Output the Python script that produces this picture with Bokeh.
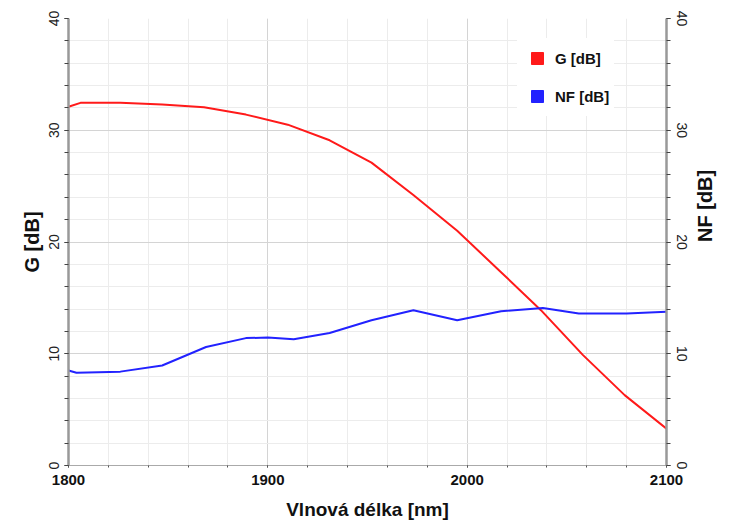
import math
from bokeh.plotting import figure
from bokeh.models import (Range1d, LinearAxis, FixedTicker, Legend, LegendItem,
                          ColumnDataSource)
from bokeh.embed import file_html
from bokeh.resources import INLINE

# Gain and noise figure of the amplifier versus wavelength
wl_g = [1800, 1806, 1826, 1847, 1868, 1889, 1910, 1931, 1952, 1973, 1995, 2017, 2037, 2058, 2079, 2100]
gain_db = [32.1, 32.45, 32.45, 32.3, 32.05, 31.4, 30.5, 29.1, 27.1, 24.2, 21.0, 17.3, 13.9, 9.9, 6.3, 3.3]

wl_nf = [1800, 1804, 1826, 1847, 1869, 1889, 1900, 1913, 1931, 1952, 1973, 1995, 2017, 2038, 2056, 2080, 2100]
nf_db = [8.5, 8.3, 8.4, 8.95, 10.6, 11.4, 11.45, 11.3, 11.85, 13.0, 13.9, 13.0, 13.8, 14.1, 13.6, 13.6, 13.75]

x_major = [1800, 1900, 2000, 2100]
x_minor = [1800 + 20 * i for i in range(16)]
y_major = [0, 10, 20, 30, 40]
y_minor = [2 * i for i in range(21)]

FONT = "Liberation Sans"
RED = "#ff1a1a"
BLUE = "#2222ff"

p = figure(width=730, height=527, output_backend="svg", toolbar_location=None,
           x_range=Range1d(1800, 2100), y_range=Range1d(0, 40),
           min_border_left=68, min_border_right=64, min_border_top=18, min_border_bottom=62,
           background_fill_color="white", border_fill_color="white")
p.outline_line_color = None
p.extra_y_ranges = {"nf": Range1d(0, 40), "swatch": Range1d(1000, 1001)}

# grid
p.xgrid.ticker = FixedTicker(ticks=x_major, minor_ticks=x_minor)
p.ygrid.ticker = FixedTicker(ticks=y_major, minor_ticks=y_minor)
for g in (p.xgrid, p.ygrid):
    g.grid_line_color = "#d4d4d4"
    g.grid_line_width = 1
    g.minor_grid_line_color = "#ececec"
    g.minor_grid_line_width = 1

# bottom axis
xa = p.xaxis[0]
xa.ticker = FixedTicker(ticks=x_major, minor_ticks=x_minor)
xa.axis_line_color = "#555555"
xa.axis_line_dash = "1 1"
xa.axis_line_width = 1
xa.major_tick_line_color = "#555555"
xa.minor_tick_line_color = "#555555"
xa.major_tick_out = 2
xa.major_tick_in = 0
xa.minor_tick_out = 2
xa.minor_tick_in = 0
xa.major_label_standoff = 7
xa.major_label_text_font = FONT
xa.major_label_text_font_style = "bold"
xa.major_label_text_font_size = "15px"
xa.major_label_text_color = "#111111"
xa.axis_label = "Vlnová délka [nm]"
xa.axis_label_text_font = FONT
xa.axis_label_text_font_style = "bold"
xa.axis_label_text_font_size = "19px"
xa.axis_label_text_color = "#111111"
xa.axis_label_standoff = 11


def style_y(ax, label, standoff):
    ax.ticker = FixedTicker(ticks=y_major, minor_ticks=y_minor)
    ax.axis_line_color = "#999999"
    ax.axis_line_width = 2.5
    ax.major_tick_line_color = "#444444"
    ax.minor_tick_line_color = "#444444"
    ax.major_tick_out = 4
    ax.major_tick_in = 0
    ax.minor_tick_out = 4
    ax.minor_tick_in = 0
    ax.major_label_orientation = "vertical"
    ax.major_label_standoff = 6
    ax.major_label_text_font = FONT
    ax.major_label_text_font_size = "14px"
    ax.major_label_text_color = "#222222"
    ax.axis_label = label
    ax.axis_label_text_font = FONT
    ax.axis_label_text_font_style = "bold"
    ax.axis_label_text_font_size = "20px"
    ax.axis_label_text_color = "#111111"
    ax.axis_label_standoff = standoff


style_y(p.yaxis[0], "G [dB]", 3)
ra = LinearAxis(y_range_name="nf")
style_y(ra, "NF [dB]", 15)
# right-hand title reads bottom to top, like the left one
ra.axis_label_orientation = math.pi / 2
p.add_layout(ra, "right")

# curves
src_g = ColumnDataSource(dict(x=wl_g, y=gain_db))
src_nf = ColumnDataSource(dict(x=wl_nf, y=nf_db))
p.line("x", "y", source=src_g, line_color=RED, line_width=2)
p.line("x", "y", source=src_nf, line_color=BLUE, line_width=2, y_range_name="nf")

# legend swatches: square markers mapped onto a range that lies outside the frame
sq_g = p.scatter("x", "y", source=src_g, marker="square", size=12,
                 fill_color=RED, line_color=RED, y_range_name="swatch")
sq_nf = p.scatter("x", "y", source=src_nf, marker="square", size=12,
                  fill_color=BLUE, line_color=BLUE, y_range_name="swatch")
legend = Legend(items=[LegendItem(label="G [dB]", renderers=[sq_g], index=0),
                       LegendItem(label="NF [dB]", renderers=[sq_nf], index=0)],
                location=(449, 349), padding=5, spacing=8,
                glyph_width=30, glyph_height=30, label_height=30, label_standoff=3,
                label_text_font=FONT, label_text_font_style="bold",
                label_text_font_size="15px", label_text_color="#111111",
                border_line_alpha=0, background_fill_color="white",
                background_fill_alpha=1)
p.add_layout(legend)

open("out.html", "w").write(file_html(p, INLINE))
